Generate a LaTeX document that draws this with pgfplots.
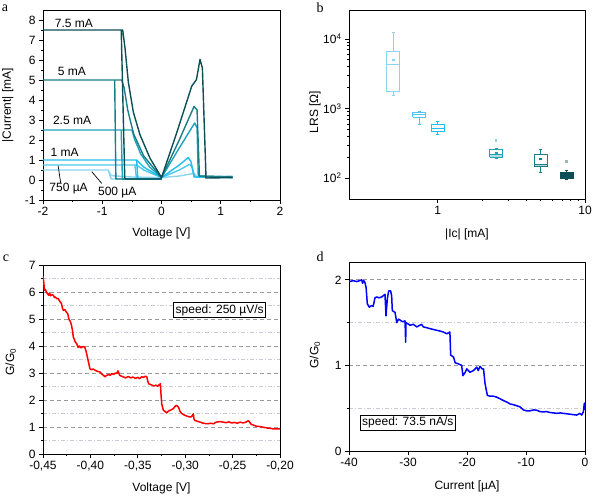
\documentclass[border=0pt]{standalone}
\usepackage{pgfplots}
\pgfplotsset{compat=1.18}
\usepackage{fontspec}
\setmainfont{Liberation Sans}
\newfontfamily\seriffont{Liberation Serif}
\definecolor{cA}{HTML}{8AD5F0}
\definecolor{cB}{HTML}{4CC8F0}
\definecolor{cC}{HTML}{22BEEC}
\definecolor{cD}{HTML}{1EA2BA}
\definecolor{cE}{HTML}{1A7E88}
\definecolor{cF}{HTML}{0C4F56}
\definecolor{gmaj}{HTML}{9A9A9A}
\definecolor{gmin}{HTML}{CACAD6}
\pgfplotsset{
  every axis/.append style={
    scale only axis,
    font=\fontsize{12}{14}\selectfont,
    /pgf/number format/assume math mode=true,
    tick pos=left,
    tick align=outside,
    major tick length=4pt,
    minor tick length=2pt,
    axis line style={black, line width=0.8pt},
    every tick/.style={black, line width=0.7pt},
    tick label style={font=\fontsize{12}{14}\selectfont},
    label style={font=\fontsize{12}{14}\selectfont},
  },
}
\begin{document}
\begin{tikzpicture}
\useasboundingbox (0,0) rectangle (593pt,-496pt);
% ---------------- panel a
\begin{axis}[at={(43pt,-10pt)}, anchor=north west, width=237pt, height=190pt,
  xmin=-2, xmax=2, ymin=-1, ymax=8.5,
  xtick={-2,-1,0,1,2}, ytick={-1,0,1,2,3,4,5,6,7,8},
  minor x tick num=1, minor y tick num=1,
  xlabel={Voltage [V]}, ylabel={|Current| [mA]},
  every axis y label/.style={rotate=90, anchor=center, at={(axis description cs:-0.149,0.5)}},
  every axis x label/.style={anchor=center, at={(axis description cs:0.5,-0.174)}},
  every axis plot/.append style={line width=1.4pt, line join=round}]
\addplot[cA] coordinates {(0,0.05) (-0.85,0.05) (-0.9,0.5) (-2,0.5) (-0.9,0.5) (-0.85,0.22) (-0.5,0.15) (0,0.12) (0.3,0.2) (0.55,0.33) (0.6,0.15) (1.2,0.2)};
\addplot[cB] coordinates {(0,0.05) (-0.42,0.05) (-0.45,0.75) (-2,0.75) (-0.42,0.75) (-0.3,0.5) (0,0.12) (0.3,0.5) (0.48,0.79) (0.52,0.6) (0.56,0.15) (1.2,0.12)};
\addplot[cC] coordinates {(0,0.05) (-0.4,0.05) (-0.42,1.0) (-2,1.0) (-0.42,1.0) (-0.3,0.65) (0,0.12) (0.3,0.75) (0.45,1.12) (0.5,0.9) (0.55,0.15) (1.2,0.15)};
\addplot[cD] coordinates {(0,0.05) (-0.66,0.05) (-0.68,2.5) (-2,2.5) (-0.5,2.5) (-0.45,2.0) (-0.35,1.3) (-0.2,0.65) (0,0.12) (0.3,1.6) (0.56,2.85) (0.6,2.6) (0.62,0.2) (1.2,0.15)};
\addplot[cE] coordinates {(0,0.05) (-0.77,0.05) (-0.79,5) (-2,5) (-0.67,5) (-0.63,4.6) (-0.57,3.5) (-0.47,2.3) (-0.3,1.2) (0,0.12) (0.3,2.0) (0.55,3.68) (0.6,3.5) (0.64,0.2) (1.2,0.15)};
\addplot[cF] coordinates {(0,0.05) (-0.6,0.05) (-0.62,0.1) (-0.68,7.5) (-2,7.5) (-0.655,7.5) (-0.616,6.6) (-0.56,4.9) (-0.476,3.4) (-0.363,2.26) (-0.194,1.09) (0,0.12) (0.25,2.3) (0.51,4.69) (0.59,5.02) (0.65,6.03) (0.69,5.6) (0.75,0.25) (0.75,0.1) (1.2,0.12)};
\node[anchor=west] at (axis cs:-1.86,7.84) {7.5 mA};
\node[anchor=west] at (axis cs:-1.81,5.42) {5 mA};
\node[anchor=west] at (axis cs:-1.89,2.96) {2.5 mA};
\node[anchor=west] at (axis cs:-1.93,1.36) {1 mA};
\node[anchor=west] at (axis cs:-1.95,-0.45) {750 µA};
\node[anchor=west] at (axis cs:-1.13,-0.65) {500 µA};
\draw[black, line width=0.7pt] (axis cs:-1.745,0.72) -- (axis cs:-1.70,-0.17);
\draw[black, line width=0.7pt] (axis cs:-1.178,0.42) -- (axis cs:-1.009,-0.17);
\end{axis}
% ---------------- panel b
\begin{axis}[at={(349pt,-10pt)}, anchor=north west, width=236pt, height=189pt,
  xmode=log, ymode=log, xmin=0.25, xmax=10, ymin=50, ymax=26000,
  xtick={1,10}, xticklabels={1,10},
  ytick={100,1000,10000}, yticklabels={10\textsuperscript{2},10\textsuperscript{3},10\textsuperscript{4}},
  xlabel={|Ic| [mA]}, ylabel={LRS [Ω]},
  every axis y label/.style={rotate=90, anchor=center, at={(axis description cs:-0.144,0.46)}},
  every axis x label/.style={anchor=center, at={(axis description cs:0.5,-0.19)}},
  every axis plot/.append style={line width=1pt}]
% 0.5 mA
\addplot[cA] coordinates {(0.4517,1745) (0.5535,1745) (0.5535,6550) (0.4517,6550) (0.4517,1745)};
\addplot[cA] coordinates {(0.4517,4330) (0.5535,4330)};
\addplot[cA] coordinates {(0.5,6550) (0.5,12300)};
\addplot[cA] coordinates {(0.5,1745) (0.5,1514)};
\addplot[cA] coordinates {(0.4878,12300) (0.5125,12300)};
\addplot[cA] coordinates {(0.4878,1514) (0.5125,1514)};
\addplot[cA, only marks, mark=square*, mark size=0.8pt] coordinates {(0.5,4980)};
% 0.75 mA
\addplot[cB] coordinates {(0.6775,750) (0.830,750) (0.830,873) (0.6775,873) (0.6775,750)};
\addplot[cB] coordinates {(0.6775,810) (0.830,810)};
\addplot[cB] coordinates {(0.75,750) (0.75,582)};
\addplot[cB] coordinates {(0.7317,582) (0.7688,582)};
\addplot[cB] coordinates {(0.7317,890) (0.7688,890)};
% 1 mA
\addplot[cC] coordinates {(0.9033,467) (1.107,467) (1.107,582) (0.9033,582) (0.9033,467)};
\addplot[cC] coordinates {(0.9033,521) (1.107,521)};
\addplot[cC] coordinates {(1,582) (1,648)};
\addplot[cC] coordinates {(1,467) (1,418)};
\addplot[cC] coordinates {(0.9756,648) (1.025,648)};
\addplot[cC] coordinates {(0.9756,418) (1.025,418)};
% 2.5 mA
\addplot[cD, fill=cD!35] coordinates {(2.258,200) (2.768,200) (2.768,215) (2.258,215) (2.258,200)};
\addplot[cD] coordinates {(2.258,200) (2.768,200) (2.768,255) (2.258,255) (2.258,200)};
\addplot[cD] coordinates {(2.5,255) (2.5,269)};
\addplot[cD] coordinates {(2.5,200) (2.5,189)};
\addplot[cD] coordinates {(2.439,269) (2.5625,269)};
\addplot[cD] coordinates {(2.439,189) (2.5625,189)};
\addplot[cD!50, only marks, mark=square*, mark size=0.6pt] coordinates {(2.5,347)};
\addplot[cD, only marks, mark=square*, mark size=0.7pt] coordinates {(2.5,225)};
% 5 mA
\addplot[cE, fill=cE!30] coordinates {(4.517,147) (5.535,147) (5.535,158) (4.517,158) (4.517,147)};
\addplot[cE] coordinates {(4.517,147) (5.535,147) (5.535,221) (4.517,221) (4.517,147)};
\addplot[cE] coordinates {(5,221) (5,261)};
\addplot[cE] coordinates {(5,147) (5,120)};
\addplot[cE] coordinates {(4.878,261) (5.125,261)};
\addplot[cE] coordinates {(4.878,120) (5.125,120)};
\addplot[cE, only marks, mark=square*, mark size=0.8pt] coordinates {(5,187)};
% 7.5 mA
\addplot[cF, fill=cF] coordinates {(6.775,100) (8.30,100) (8.30,122) (6.775,122) (6.775,100)};
\addplot[cF] coordinates {(7.5,122) (7.5,128)};
\addplot[cF] coordinates {(7.5,100) (7.5,95)};
\addplot[cF] coordinates {(7.317,128) (7.6875,128)};
\addplot[cF] coordinates {(7.317,95) (7.6875,95)};
\addplot[cF!40, only marks, mark=square*, mark size=0.6pt] coordinates {(7.5,173)};
\end{axis}
% ---------------- panel c
\begin{axis}[at={(43pt,-265pt)}, anchor=north west, width=237pt, height=189pt,
  xmin=-0.45, xmax=-0.2, ymin=0, ymax=7,
  xtick={-0.45,-0.40,-0.35,-0.30,-0.25,-0.20},
  xticklabel style={/pgf/number format/.cd, fixed, fixed zerofill, precision=2, use comma},
  ytick={0,1,2,3,4,5,6,7}, minor x tick num=1, minor y tick num=1,
  ymajorgrids, yminorgrids,
  major grid style={gmaj, line width=0.7pt, dash pattern=on 4pt off 3pt},
  minor grid style={gmin, line width=0.7pt, dash pattern=on 4pt off 2pt on 1pt off 2pt},
  xlabel={Voltage [V]}, ylabel={G/G\textsubscript{0}},
  every axis y label/.style={rotate=90, anchor=center, at={(axis description cs:-0.136,0.487)}},
  every axis x label/.style={anchor=center, at={(axis description cs:0.5,-0.183)}}]
\addplot[red, line width=1.5pt, line join=round] coordinates {
(-0.4500,6.58) (-0.4495,6.45) (-0.4490,6.30) (-0.4486,6.06) (-0.4475,6.10) (-0.4465,6.00) (-0.4455,5.95) (-0.4440,5.88) (-0.4430,5.96) (-0.4420,5.86) (-0.4405,5.90) (-0.4390,5.88) (-0.4380,5.80) (-0.4370,5.82) (-0.4355,5.75) (-0.4340,5.76) (-0.4320,5.64) (-0.4305,5.57) (-0.4295,5.40) (-0.4285,5.32) (-0.4270,5.35) (-0.4255,5.26) (-0.4240,5.20) (-0.4225,4.98) (-0.4210,4.90) (-0.4200,4.77) (-0.4190,4.60) (-0.4180,4.33) (-0.4170,4.25) (-0.4160,4.15) (-0.4145,4.09) (-0.4130,3.95) (-0.4115,4.00) (-0.4100,3.93) (-0.4080,3.98) (-0.4060,3.96) (-0.4045,3.80) (-0.4032,3.59) (-0.4020,3.40) (-0.4005,3.16) (-0.3990,3.12) (-0.3970,3.15) (-0.3950,3.10) (-0.3925,3.06) (-0.3900,3.04) (-0.3880,2.96) (-0.3860,2.91) (-0.3845,2.86) (-0.3830,2.91) (-0.3810,2.94) (-0.3790,2.92) (-0.3776,2.98) (-0.3755,2.95) (-0.3735,3.00) (-0.3720,2.98) (-0.3710,3.08) (-0.3700,3.00) (-0.3690,2.91) (-0.3670,2.88) (-0.3650,2.85) (-0.3630,2.82) (-0.3600,2.87) (-0.3575,2.82) (-0.3550,2.85) (-0.3525,2.80) (-0.3500,2.84) (-0.3480,2.79) (-0.3460,2.86) (-0.3440,2.84) (-0.3420,2.88) (-0.3405,2.86) (-0.3395,2.70) (-0.3385,2.60) (-0.3370,2.58) (-0.3350,2.55) (-0.3330,2.52) (-0.3310,2.55) (-0.3290,2.51) (-0.3275,2.56) (-0.3262,2.60) (-0.3255,2.20) (-0.3248,1.86) (-0.3240,1.75) (-0.3230,1.62) (-0.3215,1.58) (-0.3196,1.52) (-0.3180,1.58) (-0.3160,1.62) (-0.3140,1.65) (-0.3125,1.68) (-0.3110,1.75) (-0.3097,1.80) (-0.3085,1.78) (-0.3072,1.74) (-0.3062,1.65) (-0.3052,1.56) (-0.3035,1.50) (-0.3015,1.45) (-0.3000,1.43) (-0.2980,1.40) (-0.2960,1.38) (-0.2940,1.37) (-0.2925,1.42) (-0.2914,1.49) (-0.2908,1.30) (-0.2900,1.25) (-0.2880,1.22) (-0.2860,1.20) (-0.2840,1.18) (-0.2820,1.15) (-0.2790,1.13) (-0.2760,1.12) (-0.2730,1.14) (-0.2700,1.12) (-0.2680,1.17) (-0.2660,1.19) (-0.2630,1.20) (-0.2600,1.18) (-0.2570,1.16) (-0.2540,1.19) (-0.2510,1.15) (-0.2480,1.17) (-0.2450,1.14) (-0.2420,1.18) (-0.2390,1.15) (-0.2360,1.18) (-0.2335,1.23) (-0.2320,1.18) (-0.2305,1.10) (-0.2280,1.07) (-0.2250,1.03) (-0.2220,1.02) (-0.2190,1.00) (-0.2160,0.98) (-0.2130,0.96) (-0.2100,0.95) (-0.2070,0.93) (-0.2040,0.93) (-0.2000,0.93)};
\node[draw=black, fill=white, line width=0.8pt, inner sep=2pt] at (axis cs:-0.2636,5.33) {speed: 250 µV/s};
\end{axis}
% ---------------- panel d
\begin{axis}[at={(349pt,-262.7pt)}, anchor=north west, width=236pt, height=188.3pt,
  xmin=-40, xmax=0, ymin=0, ymax=2.2,
  xtick={-40,-30,-20,-10,0}, ytick={0,1,2}, minor y tick num=1,
  ymajorgrids, yminorgrids,
  major grid style={gmaj, line width=0.7pt, dash pattern=on 4pt off 3pt},
  minor grid style={gmin, line width=0.7pt, dash pattern=on 4pt off 2pt on 1pt off 2pt},
  xlabel={Current [µA]}, ylabel={G/G\textsubscript{0}},
  every axis y label/.style={rotate=90, anchor=center, at={(axis description cs:-0.144,0.51)}},
  every axis x label/.style={anchor=center, at={(axis description cs:0.5,-0.19)}}]
\addplot[blue, line width=1.5pt, line join=round] coordinates {
(-39.94,1.98) (-39.3,1.99) (-38.7,1.98) (-38.2,1.99) (-37.85,2.0) (-37.7,1.96) (-37.5,1.99) (-37.3,1.97) (-37.1,1.91) (-36.9,1.72) (-36.55,1.68) (-36.2,1.70) (-35.9,1.69) (-35.6,1.79) (-35.3,1.80) (-34.9,1.79) (-34.46,1.80) (-34.1,1.82) (-33.9,1.83) (-33.73,1.58) (-33.5,1.78) (-33.28,1.87) (-32.94,1.87) (-32.77,1.81) (-32.66,1.64) (-32.2,1.62) (-31.9,1.50) (-31.6,1.54) (-31.36,1.53) (-30.9,1.51) (-30.5,1.52) (-30.4,1.27) (-30.34,1.50) (-29.66,1.47) (-29.1,1.48) (-28.5,1.45) (-28.0,1.47) (-27.7,1.48) (-27.4,1.45) (-26.8,1.44) (-26.3,1.43) (-25.7,1.42) (-25.1,1.41) (-24.5,1.40) (-24.0,1.39) (-23.45,1.37) (-22.9,1.39) (-22.77,1.12) (-22.3,1.10) (-22.0,1.03) (-21.5,1.02) (-20.9,1.0) (-20.7,0.88) (-20.3,0.92) (-20.05,0.96) (-19.5,0.92) (-18.9,0.94) (-18.36,0.98) (-18.1,0.94) (-17.8,0.99) (-17.46,0.96) (-17.2,0.96) (-16.95,0.79) (-16.55,0.65) (-16.1,0.64) (-15.5,0.64) (-15.0,0.63) (-14.4,0.61) (-13.84,0.59) (-13.2,0.57) (-12.7,0.55) (-12.1,0.54) (-11.6,0.53) (-11.0,0.515) (-10.45,0.48) (-9.9,0.47) (-9.3,0.47) (-8.7,0.48) (-8.2,0.477) (-7.6,0.46) (-7.1,0.457) (-6.5,0.46) (-5.93,0.45) (-5.3,0.445) (-4.8,0.44) (-4.2,0.445) (-3.67,0.44) (-3.1,0.435) (-2.54,0.43) (-2.0,0.425) (-1.41,0.42) (-0.85,0.44) (-0.56,0.42) (-0.28,0.457) (-0.11,0.56) (0,0.48)};
\node[draw=black, fill=white, line width=0.8pt, inner sep=2pt] at (axis cs:-30.03,0.33) {speed: 73.5 nA/s};
\end{axis}
% panel letters
\node[font=\seriffont\fontsize{14}{16}\selectfont] at (5pt,-8pt) {a};
\node[font=\seriffont\fontsize{14}{16}\selectfont] at (320pt,-8pt) {b};
\node[font=\seriffont\fontsize{14}{16}\selectfont] at (6pt,-258pt) {c};
\node[font=\seriffont\fontsize{14}{16}\selectfont] at (320pt,-257pt) {d};
\end{tikzpicture}
\end{document}
